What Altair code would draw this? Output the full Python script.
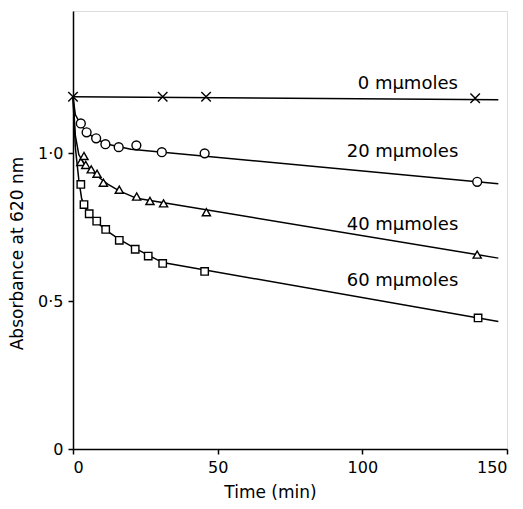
import altair as alt
import pandas as pd

# ---- data ----
series_names = ["0 mμmoles", "20 mμmoles", "40 mμmoles", "60 mμmoles"]

# measured points
t0 = [0, 31, 46, 139]
a0 = [1.19, 1.19, 1.19, 1.185]

t20 = [2.7, 4.7, 8, 11.2, 15.8, 21.9, 30.7, 45.5, 139.7]
a20 = [1.10, 1.07, 1.05, 1.03, 1.02, 1.026, 1.003, 0.999, 0.903]

t40 = [2.7, 3.8, 4.4, 6.3, 8.3, 10.5, 16, 22, 26.6, 31.3, 46.1, 139.7]
a40 = [0.97, 0.99, 0.96, 0.945, 0.93, 0.90, 0.876, 0.853, 0.838, 0.83, 0.80, 0.657]

t60 = [2.7, 3.8, 5.6, 8.2, 11.3, 16, 21.5, 26, 31, 45.5, 140]
a60 = [0.894, 0.826, 0.795, 0.77, 0.742, 0.705, 0.675, 0.652, 0.627, 0.60, 0.443]

# fitted curves drawn through the points
ct0 = [0, 147]
ca0 = [1.19, 1.18]
ct20 = [0, 0.8, 2.7, 5, 8, 12, 20, 147]
ca20 = [1.19, 1.13, 1.095, 1.068, 1.047, 1.03, 1.013, 0.896]
ct40 = [0, 0.8, 2, 4, 8, 12, 16, 22, 147]
ca40 = [1.19, 1.06, 0.995, 0.962, 0.925, 0.895, 0.872, 0.847, 0.645]
ct60 = [0, 0.8, 2, 3, 5, 8, 11, 16, 21.5, 26, 31, 147]
ca60 = [1.19, 1.02, 0.91, 0.845, 0.802, 0.77, 0.742, 0.708, 0.678, 0.655, 0.63, 0.431]

label_t = [98.4, 94.6, 94.6, 94.6]
label_a = [1.234, 1.003, 0.756, 0.566]

x_ticks = [0, 50, 100, 150]
y_ticks = [0, 0.5, 1.0]

# ---- tables ----
pts = pd.concat([
    pd.DataFrame({"t": t, "a": a, "s": n})
    for t, a, n in zip([t0, t20, t40, t60], [a0, a20, a40, a60], series_names)
])
curves = pd.concat([
    pd.DataFrame({"t": t, "a": a, "s": n})
    for t, a, n in zip([ct0, ct20, ct40, ct60], [ca0, ca20, ca40, ca60], series_names)
])
labels = pd.DataFrame({"t": label_t, "a": label_a, "s": series_names})

FONT = "DejaVu Sans"

xs = alt.Scale(domain=[0, 150], nice=False, zero=False)
ys = alt.Scale(domain=[0, 1.48], nice=False)

xax = alt.Axis(values=x_ticks, title="Time (min)", grid=False, tickSize=5,
               labelFontSize=16, titleFontSize=17, labelPadding=5,
               titlePadding=9, titleX=197, titleFontWeight="normal",
               labelFont=FONT, titleFont=FONT, domainColor="black",
               tickColor="black", labelColor="black", titleColor="black",
               domainWidth=1.5, tickWidth=1.5)
yax = alt.Axis(values=y_ticks, title="Absorbance at 620 nm", grid=False,
               tickSize=5, labelFontSize=16, titleFontSize=17, labelPadding=5,
               labelExpr="datum.value == 0 ? '0' : replace(format(datum.value, '.1f'), '.', '·')",
               titlePadding=11, titleY=242, titleFontWeight="normal",
               labelFont=FONT, titleFont=FONT, domainColor="black",
               tickColor="black", labelColor="black", titleColor="black",
               domainWidth=1.5, tickWidth=1.5)

lines = alt.Chart(curves).mark_line(color="black", strokeWidth=1.5).encode(
    x=alt.X("t:Q", scale=xs, axis=xax),
    y=alt.Y("a:Q", scale=ys, axis=yax),
    detail="s:N",
    order="t:Q",
)

shape_range = ["M-1,-1L1,1M-1,1L1,-1", "circle", "triangle-up", "square"]
points = alt.Chart(pts).mark_point(filled=False, fill="white", fillOpacity=1,
                                   stroke="black", strokeWidth=1.4, opacity=1).encode(
    x=alt.X("t:Q", scale=xs),
    y=alt.Y("a:Q", scale=ys),
    shape=alt.Shape("s:N", scale=alt.Scale(domain=series_names, range=shape_range), legend=None),
    size=alt.Size("s:N", scale=alt.Scale(domain=series_names, range=[90, 55, 95, 80]), legend=None),
)

texts = alt.Chart(labels).mark_text(align="left", baseline="middle", fontSize=18,
                                    font=FONT, color="black").encode(
    x=alt.X("t:Q", scale=xs),
    y=alt.Y("a:Q", scale=ys),
    text="s:N",
)

chart = alt.layer(lines, points, texts).properties(
    width=434, height=438,
    autosize=alt.AutoSizeParams(type="none"),
    padding={"left": 65, "top": 3, "right": 8, "bottom": 52},
).configure_view(stroke="black", strokeWidth=1.5).configure(background="white")

chart.save("out.html", embed_options={"renderer": "svg", "actions": False})
